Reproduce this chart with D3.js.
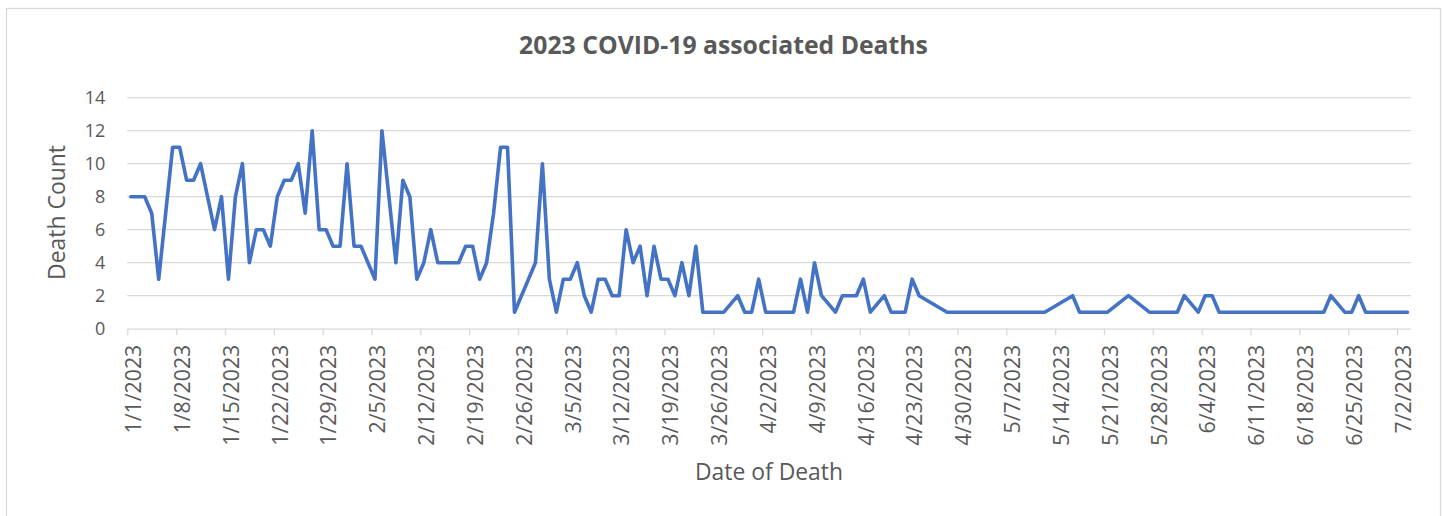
<!DOCTYPE html>
<html>
<head>
<meta charset="utf-8">
<script src="https://cdn.jsdelivr.net/npm/d3@7"></script>
<style>
  html, body { margin: 0; padding: 0; background: #fff; }
  svg { display: block; }
  text { font-family: "Open Sans", "Noto Sans", sans-serif; fill: #595959; }
</style>
</head>
<body>
<svg id="chart" width="1443" height="516"></svg>
<script>
// ---- Data ----
const dates = [
  "1/1/2023","1/2/2023","1/3/2023","1/4/2023","1/5/2023","1/7/2023","1/8/2023","1/9/2023","1/10/2023","1/11/2023",
  "1/13/2023","1/14/2023","1/15/2023","1/16/2023","1/17/2023","1/18/2023","1/19/2023","1/20/2023","1/21/2023","1/22/2023",
  "1/23/2023","1/24/2023","1/25/2023","1/26/2023","1/27/2023","1/28/2023","1/29/2023","1/30/2023","1/31/2023","2/1/2023",
  "2/2/2023","2/3/2023","2/4/2023","2/5/2023","2/6/2023","2/8/2023","2/9/2023","2/10/2023","2/11/2023","2/12/2023",
  "2/13/2023","2/14/2023","2/15/2023","2/16/2023","2/17/2023","2/18/2023","2/19/2023","2/20/2023","2/21/2023","2/22/2023",
  "2/23/2023","2/24/2023","2/25/2023","2/28/2023","3/1/2023","3/2/2023","3/3/2023","3/4/2023","3/5/2023","3/6/2023",
  "3/7/2023","3/8/2023","3/9/2023","3/10/2023","3/11/2023","3/12/2023","3/13/2023","3/14/2023","3/15/2023","3/16/2023",
  "3/17/2023","3/18/2023","3/19/2023","3/20/2023","3/21/2023","3/22/2023","3/23/2023","3/24/2023","3/25/2023","3/26/2023",
  "3/27/2023","3/29/2023","3/30/2023","3/31/2023","4/1/2023","4/2/2023","4/3/2023","4/4/2023","4/5/2023","4/6/2023",
  "4/7/2023","4/8/2023","4/9/2023","4/10/2023","4/12/2023","4/13/2023","4/14/2023","4/15/2023","4/16/2023","4/17/2023",
  "4/19/2023","4/20/2023","4/21/2023","4/22/2023","4/23/2023","4/24/2023","4/28/2023","5/12/2023","5/16/2023","5/17/2023",
  "5/21/2023","5/24/2023","5/27/2023","5/31/2023","6/1/2023","6/3/2023","6/4/2023","6/5/2023","6/6/2023","6/21/2023",
  "6/22/2023","6/24/2023","6/25/2023","6/26/2023","6/27/2023","7/3/2023"
];
const deaths = [
  8,8,8,7,3,11,11,9,9,10,
  6,8,3,8,10,4,6,6,5,8,
  9,9,10,7,12,6,6,5,5,10,
  5,5,4,3,12,4,9,8,3,4,
  6,4,4,4,4,5,5,3,4,7,
  11,11,1,4,10,3,1,3,3,4,
  2,1,3,3,2,2,6,4,5,2,
  5,3,3,2,4,2,5,1,1,1,
  1,2,1,1,3,1,1,1,1,1,
  3,1,4,2,1,2,2,2,3,1,
  2,1,1,1,3,2,1,1,2,1,
  1,2,1,1,2,1,2,2,1,1,
  2,1,1,2,1,1
];
const yTicks = [0, 2, 4, 6, 8, 10, 12, 14];
const xTickLabels = [
  "1/1/2023","1/8/2023","1/15/2023","1/22/2023","1/29/2023","2/5/2023","2/12/2023","2/19/2023","2/26/2023",
  "3/5/2023","3/12/2023","3/19/2023","3/26/2023","4/2/2023","4/9/2023","4/16/2023","4/23/2023","4/30/2023",
  "5/7/2023","5/14/2023","5/21/2023","5/28/2023","6/4/2023","6/11/2023","6/18/2023","6/25/2023","7/2/2023"
];
const axisStart = "1/1/2023";
const axisEnd = "7/4/2023";
const titleText = "2023 COVID-19 associated Deaths";
const yTitle = "Death Count";
const xTitle = "Date of Death";

(function () {
  const parse = d3.utcParse("%-m/%-d/%Y");
  const fmt = d3.utcFormat("%-m/%-d/%Y");
  const DAY = 864e5;
  const pL = 127.3, pR = 1411, pT = 97.7, pB = 328.7;
  const FONT = '"Open Sans", "Noto Sans", sans-serif';

  const svg = d3.select("#chart");
  svg.append("rect").attr("x", 6.5).attr("y", 8.5).attr("width", 1434).attr("height", 520)
    .attr("fill", "#fff").attr("stroke", "#d9d9d9").attr("stroke-width", 1.3);

  const x = d3.scaleUtc().domain([parse(axisStart), parse(axisEnd)]).range([pL, pR]);
  const y = d3.scaleLinear().domain([0, 14]).range([pB, pT]);

  function fit(sel, target) {
    const fs = parseFloat(sel.attr("font-size"));
    const w = sel.node().getComputedTextLength();
    if (w > 0) sel.attr("font-size", (fs * target / w).toFixed(2));
  }

  // gridlines
  svg.append("g").selectAll("line").data(yTicks.filter(v => v > 0)).join("line")
    .attr("x1", pL).attr("x2", pR)
    .attr("y1", d => y(d)).attr("y2", d => y(d))
    .attr("stroke", "#d9d9d9").attr("stroke-width", 1.2);

  // y axis labels
  const yAxis = d3.axisLeft(y).tickValues(yTicks).tickSize(0).tickPadding(0);
  const gy = svg.append("g").attr("transform", `translate(${pL - 22},0)`).call(yAxis);
  gy.select(".domain").remove();
  gy.selectAll("text").attr("font-size", 18).attr("fill", "#595959")
    .style("font-family", FONT).attr("dy", "0.34em");

  // x axis
  const tickDates = xTickLabels.map(parse);
  const xAxis = d3.axisBottom(x).tickValues(tickDates).tickFormat(fmt).tickSize(6.5).tickPadding(0);
  const gx = svg.append("g").attr("transform", `translate(0,${pB})`).call(xAxis);
  gx.select(".domain").attr("stroke", "#d9d9d9").attr("stroke-width", 1.3).attr("d", `M${pL},0.5H${pR}`);
  gx.selectAll(".tick line").attr("stroke", "#d9d9d9").attr("stroke-width", 1.3);
  gx.selectAll("text")
    .attr("font-size", 17.5).attr("fill", "#595959")
    .style("font-family", FONT)
    .attr("text-anchor", "end")
    .attr("transform", "rotate(-90)")
    .attr("x", -16).attr("y", 0).attr("dy", "0.62em");
  {
    const t = gx.selectAll("text").filter(function () { return this.textContent === "1/15/2023"; });
    const w = t.node().getComputedTextLength();
    if (w > 0) gx.selectAll("text").attr("font-size", (17.5 * 101 / w).toFixed(2));
  }

  // line
  const data = dates.map((d, i) => ({ date: new Date(parse(d).getTime() + DAY / 2), v: deaths[i] }));
  const line = d3.line().x(d => x(d.date)).y(d => y(d.v));
  svg.append("path").datum(data).attr("d", line)
    .attr("fill", "none").attr("stroke", "#4472C4").attr("stroke-width", 3.6)
    .attr("stroke-linejoin", "round").attr("stroke-linecap", "round");

  // titles
  const t1 = svg.append("text").attr("x", 723.5).attr("y", 54).attr("text-anchor", "middle")
    .attr("font-size", 20).attr("font-weight", "bold").text(titleText);
  fit(t1, 409);
  const t2 = svg.append("text").attr("transform", "translate(65,212.5) rotate(-90)").attr("text-anchor", "middle")
    .attr("font-size", 20).text(yTitle);
  fit(t2, 135);
  const t3 = svg.append("text").attr("x", 769).attr("y", 480).attr("text-anchor", "middle")
    .attr("font-size", 20).text(xTitle);
  fit(t3, 148);
})();
</script>
</body>
</html>
